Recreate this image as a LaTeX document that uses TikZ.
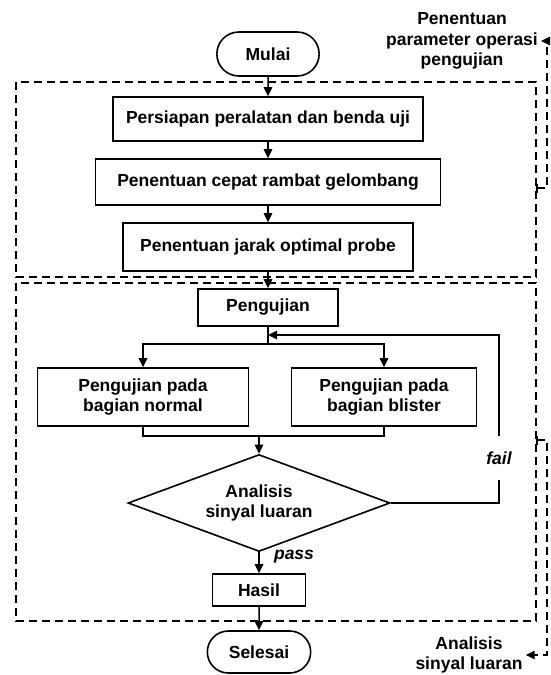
\documentclass[tikz,border=0pt]{standalone}
\usepackage{fontspec}
\setmainfont{Liberation Sans}
\usetikzlibrary{arrows.meta,shapes.geometric,shapes.misc}
\begin{document}
\begin{tikzpicture}[x=1pt,y=-1pt,
  font=\fontsize{17.5}{20.6}\selectfont\bfseries,
  proses/.style={draw,line width=1.6pt,align=center,inner sep=2pt},
  terminal/.style={draw,rounded rectangle,line width=1.6pt,minimum width=109pt,minimum height=44pt},
  keputusan/.style={draw,diamond,aspect=2.7,line width=1.6pt,minimum width=262pt,minimum height=97pt,inner sep=0pt,align=center},
  panah/.style={line width=1.5pt,-{Triangle[length=9pt,width=8.5pt]}},
  garis/.style={line width=1.5pt},
  tahap/.style={line width=1.6pt,dash pattern=on 8pt off 5pt},
  kurung/.style={line width=1.5pt,dash pattern=on 8pt off 5pt,{Bar[width=9pt]}-{Triangle[length=9pt,width=8.5pt]}},
  ket/.style={align=center,inner sep=3pt},
  miring/.style={font=\fontsize{17.5}{20.6}\selectfont\bfseries\itshape}]
\useasboundingbox (0,0) rectangle (550,675);
\draw[tahap] (16,82) rectangle (536,277);
\draw[tahap] (16,283) rectangle (536,621);
\node[terminal] (mulai) at (268,54) {Mulai};
\node[proses,minimum width=310pt,minimum height=44pt] (siap) at (268,119) {Persiapan peralatan dan benda uji};
\node[proses,minimum width=345pt,minimum height=46pt] (cepat) at (268,182) {Penentuan cepat rambat gelombang};
\node[proses,minimum width=290pt,minimum height=48pt] (jarak) at (268,247) {Penentuan jarak optimal probe};
\node[proses,minimum width=140pt,minimum height=37pt] (uji) at (268,307.5) {Pengujian};
\node[proses,minimum width=211pt,minimum height=58pt] (normal) at (143,397) {Pengujian pada\\bagian normal};
\node[proses,minimum width=185pt,minimum height=58pt] (blister) at (384,397) {Pengujian pada\\bagian blister};
\node[keputusan] (cek) at (259,503) {Analisis\\sinyal luaran};
\node[proses,minimum width=93pt,minimum height=32pt] (hasil) at (259,590) {Hasil};
\node[terminal,minimum width=110pt,minimum height=42pt] (selesai) at (259,652) {Selesai};
\node[miring,inner xsep=2pt,inner ysep=15pt] (gagal) at (499,458) {fail};
\node[miring] (lulus) at (294,557) {pass};
\node[ket] (param) at (462,41) {Penentuan\\parameter operasi\\pengujian};
\node[ket] (analisis) at (469,655) {Analisis\\sinyal luaran};
\coordinate (cabang) at (268,344);
\coordinate (balik) at (268,335);
\coordinate (gabung) at (259,436);
\coordinate (ujung1) at (536,188);
\coordinate (ujung2) at (536,440);
\draw[panah] (mulai) -- (siap);
\draw[panah] (siap) -- (cepat);
\draw[panah] (cepat) -- (jarak);
\draw[panah] (jarak) -- (uji);
\draw[garis] (uji) -- (cabang);
\draw[panah] (cabang) -| (normal);
\draw[panah] (cabang) -| (blister);
\draw[garis] (normal) |- (gabung) -| (blister);
\draw[panah] (gabung) -- (cek);
\draw[garis] (cek.east) -| (gagal.south);
\draw[panah] (gagal.north) |- (balik);
\draw[panah] (cek) -- (hasil);
\draw[panah] (hasil) -- (selesai);
\draw[kurung] (ujung1) -- ++(11,0) |- (param.east);
\draw[kurung] (ujung2) -- ++(11,0) |- (analisis.east);
\end{tikzpicture}
\end{document}
